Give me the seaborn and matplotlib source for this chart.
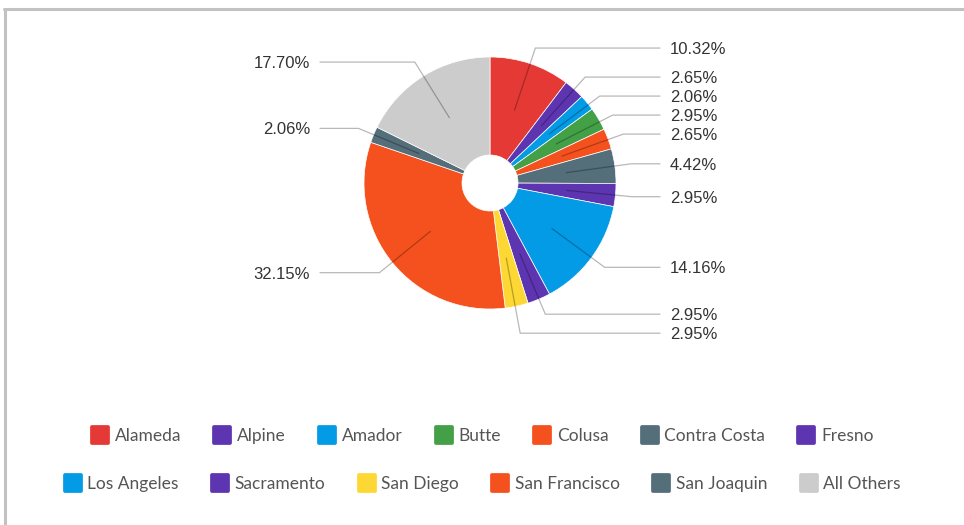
import numpy as np
import matplotlib.pyplot as plt
import seaborn as sb
from matplotlib.lines import Line2D
from matplotlib.markers import MarkerStyle

counties = ['Alameda', 'Alpine', 'Amador', 'Butte', 'Colusa', 'Contra Costa', 'Fresno',
            'Los Angeles', 'Sacramento', 'San Diego', 'San Francisco', 'San Joaquin', 'All Others']
shares = [10.32, 2.65, 2.06, 2.95, 2.65, 4.42, 2.95, 14.16, 2.95, 2.95, 32.15, 2.06, 17.70]
colors = ['#e53935', '#5e35b1', '#039be5', '#43a047', '#f4511e', '#546e7a', '#5e35b1',
          '#039be5', '#5e35b1', '#fdd835', '#f4511e', '#546e7a', '#cccccc']
row1 = counties[:7]
row2 = counties[7:]

sb.set_theme(style='white')
plt.rcParams['font.family'] = ['Liberation Sans', 'DejaVu Sans']

W, H = 964, 525
fig = plt.figure(figsize=(W / 100, H / 100), dpi=100)
ax = fig.add_axes([0, 0, 1, 1])

# pie geometry in pixels (y up)
cx, cy, R, hole = 490, 342, 126, 28
pal = sb.color_palette(colors)
wedges, _ = ax.pie(shares, colors=pal, startangle=90, counterclock=False,
                   center=(cx, cy), radius=R, frame=True,
                   wedgeprops=dict(width=R - hole, edgecolor='white', linewidth=0.5))
ax.set_xlim(0, W)
ax.set_ylim(0, H)
ax.axis('off')

# leader lines, labels pushed apart on each side
right, left = [], []
for w, s in zip(wedges, shares):
    a = np.deg2rad((w.theta1 + w.theta2) / 2)
    pin = (cx + 0.61 * R * np.cos(a), cy + 0.61 * R * np.sin(a))
    ex, ey = cx + 1.13 * R * np.cos(a), cy + 1.13 * R * np.sin(a)
    (right if np.cos(a) >= 0 else left).append([ey, ex, pin, s])

for side, xend, xtxt, ha in [(right, 660, 670, 'left'), (left, 320, 310, 'right')]:
    side.sort(key=lambda t: -t[0])
    prev = None
    for item in side:
        if prev is not None and item[0] > prev - 19:
            item[0] = prev - 19
        prev = item[0]
        ey, ex, pin, s = item
        ax.plot([pin[0], ex, xend], [pin[1], ey, ey], color='black', alpha=0.28, lw=0.9)
        ax.text(xtxt, ey - 1.5, f'{s:.2f}%', ha=ha, va='center', fontsize=12, color='#333333')

# legend, two centred rows
def handles(names):
    return [Line2D([], [], ls='', marker=MarkerStyle('s', joinstyle='round'), markersize=11,
                   markeredgewidth=2.7, color=pal[counties.index(n)]) for n in names]

for names, y in [(row1, 436), (row2, 484)]:
    leg = fig.legend(handles(names), names, ncol=len(names), loc='center',
                     bbox_to_anchor=(482 / W, 1 - y / H), frameon=False,
                     handlelength=1.1, handletextpad=0.3, columnspacing=1.82,
                     prop={'family': ['Lato', 'DejaVu Sans'], 'size': 12.5})
    for t in leg.get_texts():
        t.set_color('#555555')

# chart frame (top and left only)
fig.add_artist(Line2D([4 / W, 1], [1 - 9 / H] * 2, transform=fig.transFigure, color='#c2c2c2', lw=2.2))
fig.add_artist(Line2D([5 / W] * 2, [0, 1 - 9 / H], transform=fig.transFigure, color='#c2c2c2', lw=2.2))

fig.savefig('out.png', dpi=100)
